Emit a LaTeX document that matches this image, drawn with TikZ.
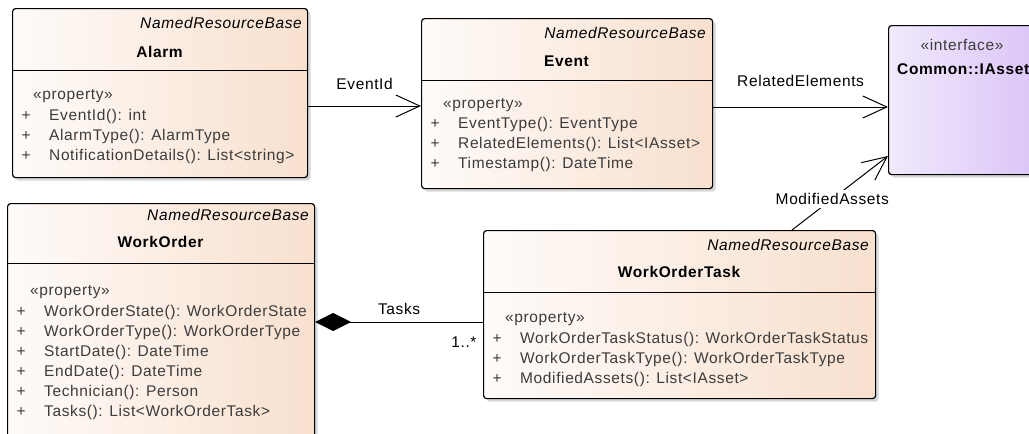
\documentclass[tikz,border=0pt]{standalone}
\usepackage{fontspec}
\setmainfont[LetterSpace=4]{Liberation Sans}
\usetikzlibrary{arrows.meta,shadows}

\definecolor{clsleft}{RGB}{254,251,249}
\definecolor{clsright}{RGB}{248,224,206}
\definecolor{ifleft}{RGB}{241,233,252}
\definecolor{ifright}{RGB}{219,197,247}
\definecolor{membertext}{RGB}{60,60,60}
\newcommand{\fs}{\fontsize{15.5}{18}\selectfont}
\newcommand{\pl}{\makebox[27.5pt][l]{+}}

\begin{document}
\begin{tikzpicture}[x=1pt,y=-1pt,
    box/.style={draw, line width=1.2pt, rounded corners=3pt, anchor=north west, inner sep=0pt,
      drop shadow={shadow xshift=3pt, shadow yshift=-3pt, fill=black!30}},
    cls/.style={box, left color=clsleft, right color=clsright},
    iface/.style={box, left color=ifleft, right color=ifright},
    divider/.style={line width=1pt},
    txt/.style={font=\fs, inner sep=0pt, anchor=base west, text=membertext},
    basetxt/.style={font=\fs\itshape, inner sep=0pt, anchor=base east},
    nametxt/.style={font=\fs\bfseries, inner sep=0pt, anchor=base},
    lbl/.style={font=\fs, inner sep=0pt},
    assoc/.style={line width=1pt, -{Straight Barb[length=24pt,width=22pt,line width=1pt]}},
    comp/.style={line width=1pt, {Diamond[length=36pt,width=18pt]}-}]
    \useasboundingbox (0,0) rectangle (1029,434);
    \clip (0,0) rectangle (1029,434);

    % Alarm
    \node[cls, minimum width=295pt, minimum height=169pt] (alarm) at (12,8) {};
    \draw[divider] ([yshift=-62pt]alarm.north west) -- ([yshift=-62pt]alarm.north east);
    \node[basetxt] (alarm-base) at (302,28) {NamedResourceBase};
    \node[nametxt] (alarm-name) at (159.5,57) {Alarm};
    \node[txt] (alarm-st) at (33,99) {«property»};
    \node[txt] (alarm-1) at (21.5,120) {\pl EventId(): int};
    \node[txt] (alarm-2) at (21.5,140) {\pl AlarmType(): AlarmType};
    \node[txt] (alarm-3) at (21.5,160) {\pl NotificationDetails(): List<string>};

    % Event
    \node[cls, minimum width=291pt, minimum height=170pt] (event) at (421,18) {};
    \draw[divider] ([yshift=-62pt]event.north west) -- ([yshift=-62pt]event.north east);
    \node[basetxt] (event-base) at (706,38) {NamedResourceBase};
    \node[nametxt] (event-name) at (566.5,66) {Event};
    \node[txt] (event-st) at (443,108) {«property»};
    \node[txt] (event-1) at (430.5,128) {\pl EventType(): EventType};
    \node[txt] (event-2) at (430.5,148) {\pl RelatedElements(): List<IAsset>};
    \node[txt] (event-3) at (430.5,168) {\pl Timestamp(): DateTime};

    % Common::IAsset
    \node[iface, minimum width=148pt, minimum height=149pt] (iasset) at (888,25) {};
    \node[txt, anchor=base] (iasset-st) at (962,50) {«interface»};
    \node[nametxt, anchor=base west] (iasset-name) at (897,74) {Common::IAsset};

    % WorkOrder
    \node[cls, minimum width=307pt, minimum height=260pt] (wo) at (7,203) {};
    \draw[divider] ([yshift=-60pt]wo.north west) -- ([yshift=-60pt]wo.north east);
    \node[basetxt] (wo-base) at (309,220) {NamedResourceBase};
    \node[nametxt] (wo-name) at (160.5,247) {WorkOrder};
    \node[txt] (wo-st) at (30,295) {«property»};
    \node[txt] (wo-1) at (16.5,316) {\pl WorkOrderState(): WorkOrderState};
    \node[txt] (wo-2) at (16.5,336) {\pl WorkOrderType(): WorkOrderType};
    \node[txt] (wo-3) at (16.5,356) {\pl StartDate(): DateTime};
    \node[txt] (wo-4) at (16.5,376) {\pl EndDate(): DateTime};
    \node[txt] (wo-5) at (16.5,396) {\pl Technician(): Person};
    \node[txt] (wo-6) at (16.5,416) {\pl Tasks(): List<WorkOrderTask>};

    % WorkOrderTask
    \node[cls, minimum width=392pt, minimum height=168pt] (wot) at (483,230) {};
    \draw[divider] ([yshift=-62pt]wot.north west) -- ([yshift=-62pt]wot.north east);
    \node[basetxt] (wot-base) at (869,250) {NamedResourceBase};
    \node[nametxt] (wot-name) at (679,277) {WorkOrderTask};
    \node[txt] (wot-st) at (505,322) {«property»};
    \node[txt] (wot-1) at (492.5,343) {\pl WorkOrderTaskStatus(): WorkOrderTaskStatus};
    \node[txt] (wot-2) at (492.5,363) {\pl WorkOrderTaskType(): WorkOrderTaskType};
    \node[txt] (wot-3) at (492.5,383) {\pl ModifiedAssets(): List<IAsset>};

    % connectors
    \draw[assoc] ([yshift=-98pt]alarm.north east) -- node[lbl, above=16pt] (evid-lbl) {EventId} ([yshift=-88pt]event.north west);
    \draw[assoc] ([yshift=-89pt]event.north east) -- node[lbl, above=20pt] (rel-lbl) {RelatedElements} ([yshift=-82pt]iasset.north west);
    \draw[assoc] ([xshift=309pt]wot.north west) -- node[lbl, pos=0.42, fill=white, inner sep=3pt] (mod-lbl) {ModifiedAssets} ([yshift=-131pt]iasset.north west);
    \draw[comp] ([yshift=-119pt]wo.north east) -- node[lbl, above=7pt] (tasks-lbl) {Tasks}
      node[lbl, pos=1, anchor=base east, xshift=-6pt, yshift=-25pt] (tasks-mult) {1..*} ([yshift=-92pt]wot.north west);
\end{tikzpicture}
\end{document}
